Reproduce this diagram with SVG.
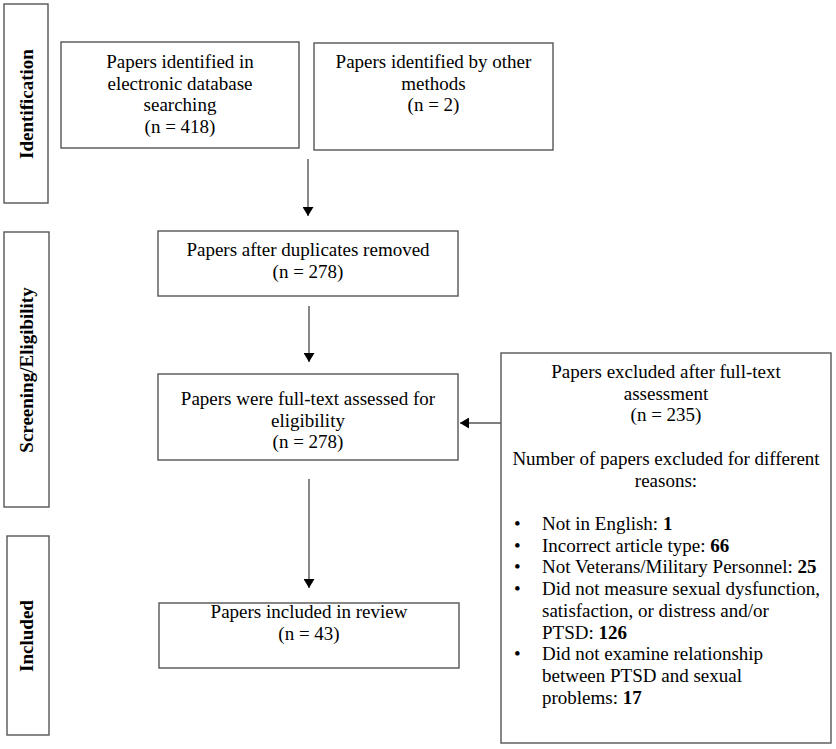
<svg xmlns="http://www.w3.org/2000/svg" width="836" height="749" viewBox="0 0 836 749">
<defs>
<marker id="ah" markerWidth="9" markerHeight="11" refX="9" refY="5.5" orient="auto" markerUnits="userSpaceOnUse">
<path d="M0,0 L9,5.5 L0,11 Z" fill="#000"/>
</marker>
<style>
.box{fill:#fff;stroke:#555;stroke-width:1.4}
.t{font-family:"Liberation Serif","Times New Roman",serif;font-size:19px;fill:#000}
.c{text-anchor:middle}
.side{font-family:"Liberation Serif","Times New Roman",serif;font-size:19px;font-weight:bold;text-anchor:middle;fill:#000}
.conn{stroke:#555;stroke-width:1.4;fill:none}
</style>
</defs>
<rect width="836" height="749" fill="#fff"/>
<g id="stage-identification">
<rect class="box" x="4" y="4" width="44" height="199"/>
<text class="side" transform="translate(33,104) rotate(-90)">Identification</text>
</g>
<g id="stage-screening">
<rect class="box" x="4" y="232" width="45" height="275"/>
<text class="side" transform="translate(33,370) rotate(-90)">Screening/Eligibility</text>
</g>
<g id="stage-included">
<rect class="box" x="7" y="536" width="42" height="199"/>
<text class="side" transform="translate(33,636) rotate(-90)">Included</text>
</g>
<g id="n-database">
<rect class="box" x="61" y="42" width="238" height="106"/>
<text class="t c" x="180" y="68">Papers identified in</text>
<text class="t c" x="180" y="89.7">electronic database</text>
<text class="t c" x="180" y="111.4">searching</text>
<text class="t c" x="180" y="133">(n = 418)</text>
</g>
<g id="n-other">
<rect class="box" x="314" y="43" width="239" height="107"/>
<text class="t c" x="433.5" y="68">Papers identified by other</text>
<text class="t c" x="433.5" y="89.7">methods</text>
<text class="t c" x="433.5" y="111.4">(n = 2)</text>
</g>
<g id="n-duplicates">
<rect class="box" x="158" y="231" width="300" height="65"/>
<text class="t c" x="308" y="256">Papers after duplicates removed</text>
<text class="t c" x="308" y="278">(n = 278)</text>
</g>
<g id="n-fulltext">
<rect class="box" x="158" y="374" width="300" height="86"/>
<text class="t c" x="308" y="405">Papers were full-text assessed for</text>
<text class="t c" x="308" y="426.7">eligibility</text>
<text class="t c" x="308" y="448.4">(n = 278)</text>
</g>
<g id="n-included">
<rect class="box" x="159" y="603" width="300" height="65"/>
<text class="t c" x="309" y="618">Papers included in review</text>
<text class="t c" x="309" y="640">(n = 43)</text>
</g>
<g id="n-excluded">
<rect class="box" x="501" y="353" width="330" height="390"/>
<text class="t c" x="666" y="378">Papers excluded after full-text</text>
<text class="t c" x="666" y="399.7">assessment</text>
<text class="t c" x="666" y="421.4">(n = 235)</text>
<text class="t c" x="666" y="464.8">Number of papers excluded for different</text>
<text class="t c" x="666" y="486.5">reasons:</text>
<g class="t">
<text x="514" y="530">•</text><text x="542" y="530">Not in English: <tspan font-weight="bold">1</tspan></text>
<text x="514" y="551.7">•</text><text x="542" y="551.7">Incorrect article type: <tspan font-weight="bold">66</tspan></text>
<text x="514" y="573.4">•</text><text x="542" y="573.4">Not Veterans/Military Personnel: <tspan font-weight="bold">25</tspan></text>
<text x="514" y="595.1">•</text><text x="542" y="595.1">Did not measure sexual dysfunction,</text>
<text x="542" y="616.8">satisfaction, or distress and/or</text>
<text x="542" y="638.5">PTSD: <tspan font-weight="bold">126</tspan></text>
<text x="514" y="660.2">•</text><text x="542" y="660.2">Did not examine relationship</text>
<text x="542" y="681.9">between PTSD and sexual</text>
<text x="542" y="703.6">problems: <tspan font-weight="bold">17</tspan></text>
</g>
</g>
<g id="connectors">
<line class="conn" x1="308" y1="159" x2="308" y2="216" marker-end="url(#ah)"/>
<line class="conn" x1="309" y1="306" x2="309" y2="362" marker-end="url(#ah)"/>
<line class="conn" x1="309" y1="479" x2="309" y2="588" marker-end="url(#ah)"/>
<line class="conn" x1="501" y1="423" x2="460" y2="423" marker-end="url(#ah)"/>
</g>
</svg>
